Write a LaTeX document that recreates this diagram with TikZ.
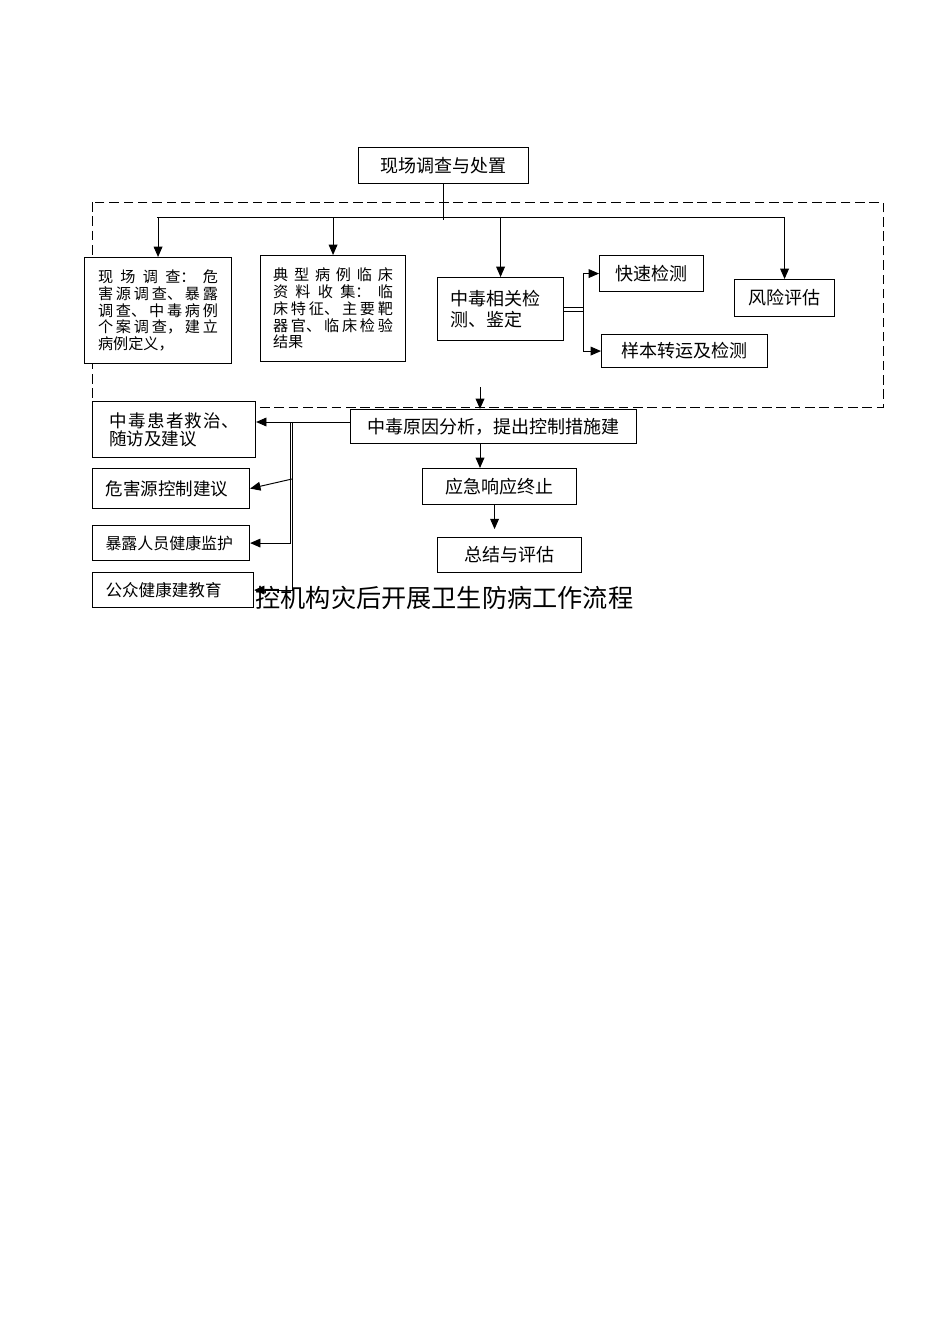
\documentclass[tikz,border=0pt]{standalone}
\usepackage{fontspec}
\setmainfont{Noto Sans CJK SC}
\usetikzlibrary{arrows.meta}
\XeTeXlinebreaklocale "zh"
\XeTeXlinebreakskip=0pt plus 2pt
\newdimen\px \px=0.6274pt

\begin{document}
\begin{tikzpicture}[x=0.6274pt, y=-0.6274pt, line width=0.6pt,
    >={Triangle[length=6.5pt,width=5.5pt]},
    box/.style={draw, fill=white, line width=0.7pt, inner sep=0pt, anchor=north west,
      font=\fontsize{11.3}{13}\selectfont},
    para/.style={box, align=justify},
    side/.style={box, align=left}]
  \useasboundingbox (0,0) rectangle (950,1344);
  %\draw [help lines, step=50] (0,0) grid (950,1344);
  \draw[dash pattern=on 6pt off 3pt] (92,202) rectangle (883,407);

  \node[box, minimum width=170\px, minimum height=36\px] (top) at (358,147) {现场调查与处置};
  \node[para, text width=120\px, minimum width=147\px, minimum height=106\px,
    font=\fontsize{9.5}{10.5}\selectfont] (field) at (84,257)
    {现场调查：危\linebreak 害源调查、暴露\linebreak 调查、中毒病例\linebreak 个案调查，建立\linebreak 病例定义，};
  \node[para, text width=120\px, minimum width=145\px, minimum height=106\px,
    font=\fontsize{9.5}{10.5}\selectfont] (clinic) at (260,255)
    {典型病例临床\linebreak 资料收集：临\linebreak 床特征、主要靶\linebreak 器官、临床检验\linebreak 结果};
  \node[side, text width=100\px, minimum width=126\px, minimum height=63\px] (det) at (437,277) {中毒相关检\\测、鉴定};
  \node[box, minimum width=104\px, minimum height=36\px] (quick) at (599,255) {快速检测};
  \node[box, minimum width=166\px, minimum height=33\px] (sample) at (601,334) {样本转运及检测};
  \node[box, minimum width=100\px, minimum height=37\px] (risk) at (734,279) {风险评估};

  \node[box, minimum width=286\px, minimum height=34\px] (cause) at (350,409) {中毒原因分析，提出控制措施建};
  \node[box, minimum width=154\px, minimum height=36\px] (stop) at (422,468) {应急响应终止};
  \node[box, minimum width=144\px, minimum height=35\px] (sum) at (437,537) {总结与评估};

  \node[para, text width=130\px, minimum width=163\px, minimum height=56\px,
    font=\fontsize{11}{11.5}\selectfont] (rescue) at (92,401) {中毒患者救治、\linebreak 随访及建议};
  \node[side, text width=131\px, minimum width=157\px, minimum height=40\px,
    font=\fontsize{11}{13}\selectfont] (hazard) at (92,468) {危害源控制建议};
  \node[side, text width=131\px, minimum width=157\px, minimum height=35\px,
    font=\fontsize{10}{12}\selectfont] (expo) at (92,525) {暴露人员健康监护};
  \node[side, text width=135\px, minimum width=161\px, minimum height=35\px,
    font=\fontsize{10.4}{12}\selectfont] (public) at (92,572) {公众健康建教育};

  \node[anchor=west, inner sep=0pt, font=\fontsize{15.8}{18}\selectfont] (title) at (255,598)
    {控机构灾后开展卫生防病工作流程};

  % top fan-out
  \coordinate (busL) at (157,217);
  \coordinate (busR) at (784,217);
  \draw (busL) -- (busR);
  \draw (top.south) -- ++(0,36);
  \draw[->] (field.north |- busL) -- (field.north);
  \draw[->] (clinic.north |- busL) -- (clinic.north);
  \draw[->] (det.north |- busL) -- (det.north);
  \draw[->] (risk.north |- busR) -- (risk.north);

  % detection split
  \coordinate (split) at (583,308);
  \draw[double, double distance=1.9pt] (det.east) -- (det.east -| split);
  \draw[->] (split) |- (quick);
  \draw[->] (split) |- (sample);

  % middle column
  \coordinate (inflow) at (480,387);
  \draw[->] (inflow) -- (inflow |- cause.north);
  \draw[->] (inflow |- cause.south) -- (inflow |- stop.north);
  \draw[->] ([xshift=-5\px]stop.south) -- ++(0,24);

  % left column
  \coordinate (forkA) at (290,422);
  \coordinate (forkB) at (292,422);
  \coordinate (forkC) at (292,479);
  \draw[->] (cause.west |- forkA) -- (rescue.east |- forkA);
  \draw[->] (forkC) -- (hazard.east);
  \draw[->] (forkA) |- (expo);
  \draw[->] (forkB) |- (public);
\end{tikzpicture}
\end{document}
